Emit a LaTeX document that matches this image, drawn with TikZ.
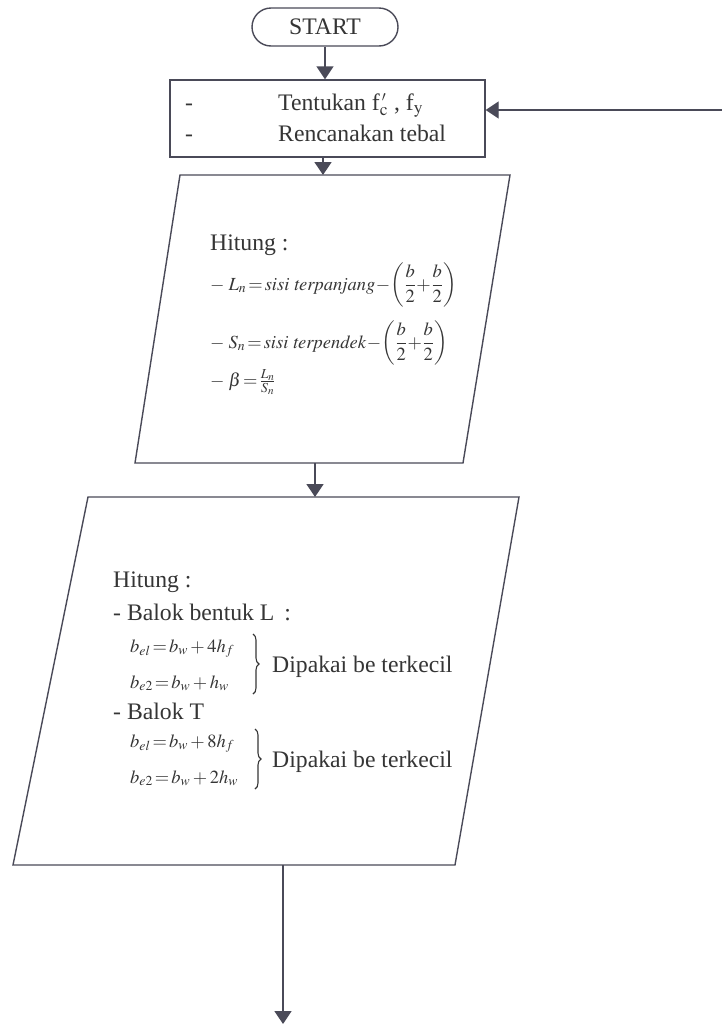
\documentclass[tikz,border=0pt]{standalone}
\usepackage{amsmath}
\usepackage{mathptmx}
\usepackage{fontspec}
\setmainfont{Liberation Serif}
\usetikzlibrary{arrows.meta,decorations.pathreplacing}
\definecolor{ln}{HTML}{4A4A58}
\definecolor{tx}{HTML}{353535}
\begin{document}
\begin{tikzpicture}[x=1pt,y=-1pt,
  arr/.style={-{Triangle[length=13pt,width=17pt]}, draw=ln, line width=1.4pt},
  box/.style={draw=ln, line width=1.4pt},
  lbl/.style={anchor=base west, inner sep=0pt, text=tx, font=\fontsize{23.7}{28}\selectfont},
  eqa/.style={anchor=base west, inner sep=0pt, text=tx, font=\fontsize{18.5}{22}\selectfont},
  eqb/.style={anchor=base west, inner sep=0pt, text=tx, font=\fontsize{18.5}{22}\selectfont},
  brc/.style={draw=tx, line width=1.1pt, decorate, decoration={brace, amplitude=6pt}}
]
\useasboundingbox (0,0) rectangle (722,1026);

% START
\node[box, rounded corners=19pt, minimum width=146pt, minimum height=38pt, inner sep=0pt,
      text=tx, font=\fontsize{23.7}{28}\selectfont] (start) at (325,27) {START};

% preparation box
\node[box, minimum width=315pt, minimum height=77pt, inner sep=0pt] (prep) at (327.5,118.5) {};
\node[lbl] (d1) at (185,110) {-};
\node[lbl] (d2) at (185,141) {-};
\node[lbl] (t1) at (278,110) {Tentukan f$_{\mathrm{c}}^{\,\scriptscriptstyle\prime}$ , f$_{\mathrm{y}}$};
\node[lbl] (t2) at (278,141) {Rencanakan tebal};

% parallelogram 1
\coordinate (p1tl) at (180,175);
\coordinate (p1tr) at (510,175);
\coordinate (p1br) at (463,463);
\coordinate (p1bl) at (135,463);
\draw[box] (p1tl) -- (p1tr) -- (p1br) -- (p1bl) -- cycle;
\coordinate (p1in) at (323,175);
\coordinate (p1out) at (315,463);

\node[lbl] (h1) at (210,250) {Hitung :};
\node[eqa] (e1) at (210,290) {$-\;L_n\!=\!\mathit{sisi\ terpanjang}\!-\!\biggl(\dfrac{b}{2}\!+\!\dfrac{b}{2}\biggr)$};
\node[eqa] (e2) at (210,348) {$-\;S_n\!=\!\mathit{sisi\ terpendek}\!-\!\biggl(\dfrac{b}{2}\!+\!\dfrac{b}{2}\biggr)$};
\node[eqa] (e3) at (210,386) {$-\;\beta\!=\!\frac{L_n}{S_n}$};

% parallelogram 2
\coordinate (p2tl) at (88,497);
\coordinate (p2tr) at (519,497);
\coordinate (p2br) at (455,865);
\coordinate (p2bl) at (13,865);
\draw[box] (p2tl) -- (p2tr) -- (p2br) -- (p2bl) -- cycle;
\coordinate (p2in) at (315,497);
\coordinate (p2out) at (283,865);
\coordinate (endc) at (283,1024);

\node[lbl] (h2) at (113,587) {Hitung :};
\node[lbl] (bl) at (113,620) {- Balok bentuk L \,:};
\node[eqb] (b1) at (130,652) {$b_{el}\!=\!b_w + 4h_f$};
\node[eqb] (b2) at (130,688) {$b_{e2}\!=\!b_w + h_w$};
\draw[brc] (253,634) -- (253,694);
\node[lbl] (dp1) at (272,672) {Dipakai be terkecil};
\node[lbl] (bt) at (113,719) {- Balok T};
\node[eqb] (b3) at (130,747) {$b_{el}\!=\!b_w + 8h_f$};
\node[eqb] (b4) at (130,783) {$b_{e2}\!=\!b_w + 2h_w$};
\draw[brc] (255,729) -- (255,789);
\node[lbl] (dp2) at (272,767) {Dipakai be terkecil};

% connectors
\coordinate (rin) at (722,110);
\draw[arr] (start.south) -- (start.south |- prep.north);
\draw[arr] (rin) -- (rin -| prep.east);
\draw[arr] (prep.south -| p1in) -- (p1in);
\draw[arr] (p1out) -- (p2in);
\draw[arr] (p2out) -- (endc);
\end{tikzpicture}
\end{document}
